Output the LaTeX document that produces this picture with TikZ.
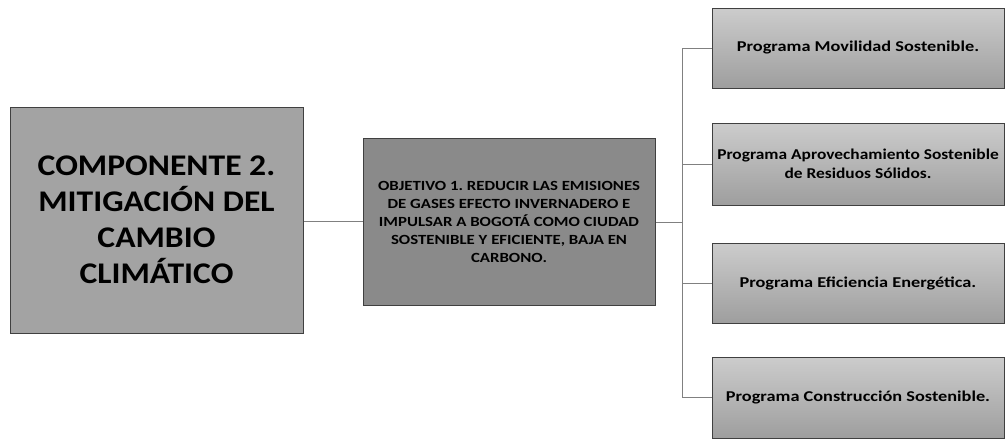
\documentclass[tikz,border=0pt]{standalone}
\usepackage{fontspec}
\setmainfont{Carlito}
\newfontfamily\compfont{Carlito}[FakeStretch=1.12]
\newfontfamily\objfont{Carlito}[FakeStretch=1.2]
\newfontfamily\progfont{Carlito}[FakeStretch=1.22]
\newfontfamily\progfontb{Carlito}[FakeStretch=1.16]
\frenchspacing
\begin{document}
\begin{tikzpicture}[x=1pt,y=-1pt,
  boxbase/.style={rectangle, draw=black!75, line width=1pt, inner sep=0pt, align=center},
  compbox/.style={boxbase, fill=black!36, minimum width=293pt, minimum height=226pt, font=\compfont\bfseries\fontsize{30}{36}\selectfont},
  objbox/.style={boxbase, fill=black!46, minimum width=292pt, minimum height=167pt, font=\objfont\bfseries\fontsize{14}{18}\selectfont},
  progbox/.style={boxbase, top color=black!20, bottom color=black!38, minimum width=292pt, minimum height=80pt, font=\progfont\bfseries\fontsize{15}{19}\selectfont},
  conn/.style={draw=black!50, line width=0.9pt}]
\useasboundingbox (0,0) rectangle (1006,440);
\node[compbox] (comp) at (156.5,220) {COMPONENTE 2.\\MITIGACIÓN DEL\\CAMBIO\\CLIMÁTICO};
\node[objbox] (obj) at (509,221.5) {\frenchspacing OBJETIVO 1. REDUCIR LAS EMISIONES\\DE GASES EFECTO INVERNADERO E\\IMPULSAR A BOGOTÁ COMO CIUDAD\\SOSTENIBLE Y EFICIENTE, BAJA EN\\CARBONO.};
\node[progbox] (pa) at (858,48) {Programa Movilidad Sostenible.};
\node[progbox, minimum height=82pt, font=\progfontb\bfseries\fontsize{15}{19}\selectfont] (pb) at (858,164) {Programa Aprovechamiento Sostenible\\de Residuos Sólidos.};
\node[progbox] (pc) at (858,283) {Programa Eficiencia Energética.};
\node[progbox, minimum height=81pt] (pd) at (858,397.5) {Programa Construcción Sostenible.};
\coordinate (j) at (682,222);
\draw[conn] (comp.east |- 0,221) -- (obj.west |- 0,221);
\draw[conn] (obj.east |- j) -- (j);
\draw[conn] (j |- pa.west) -- (j |- pd.west);
\draw[conn] (j |- pa.west) -- (pa.west);
\draw[conn] (j |- pb.west) -- (pb.west);
\draw[conn] (j |- pc.west) -- (pc.west);
\draw[conn] (j |- pd.west) -- (pd.west);
\end{tikzpicture}
\end{document}
